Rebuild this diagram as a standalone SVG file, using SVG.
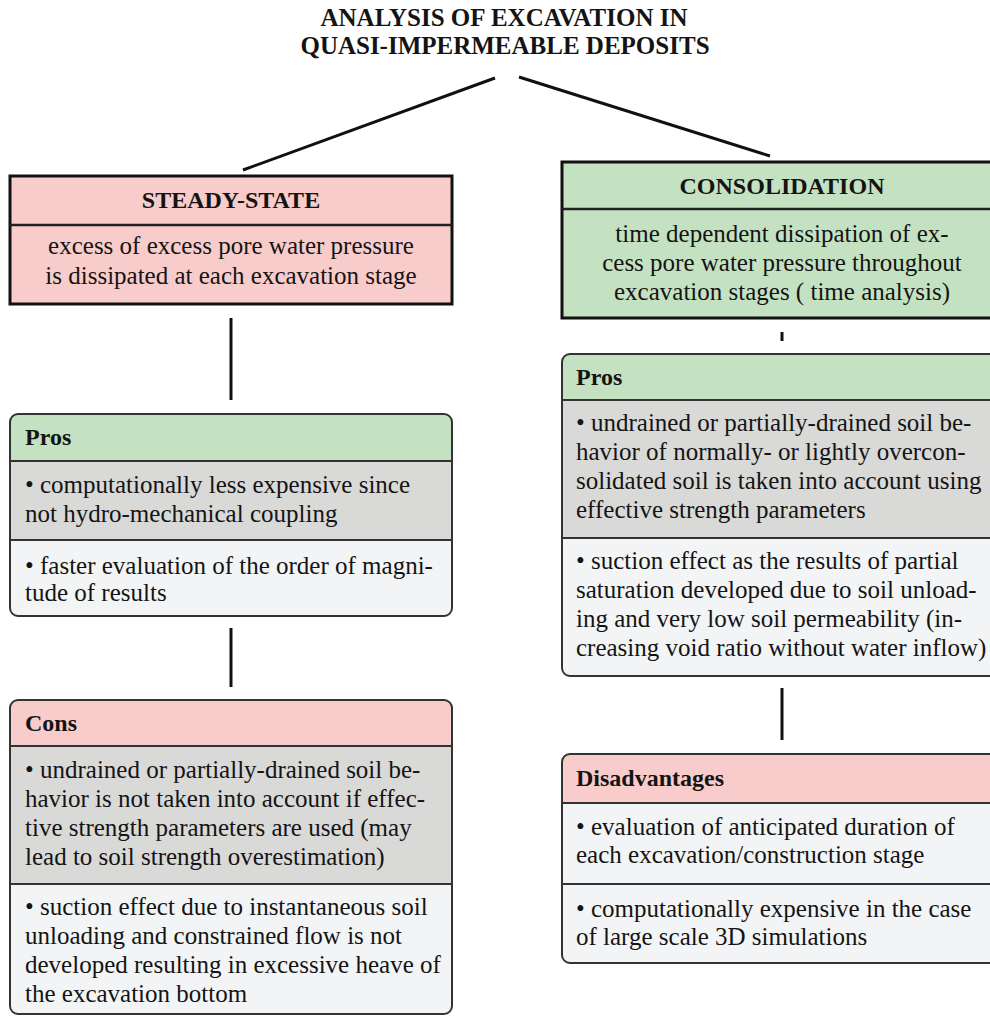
<svg xmlns="http://www.w3.org/2000/svg" width="990" height="1016" viewBox="0 0 990 1016" font-family="'Liberation Serif', Tinos, 'Times New Roman', Times, serif">
<style>
text{font-family:'Liberation Serif', Tinos, 'Times New Roman', Times, serif;font-size:25px;fill:#141414;font-weight:normal}
text.b{font-weight:bold;font-size:24px}
text.tt{font-size:25px}
.c{text-anchor:middle}
.con{stroke:#111;stroke-width:3;fill:none}
.top{stroke:#111;stroke-width:3}
.div{stroke:#222;stroke-width:2.5}
.sdiv{stroke:#333;stroke-width:2}
.frame{fill:none;stroke:#333;stroke-width:2}
.pink{fill:#f8ccca}
.green{fill:#c4e2c2}
.gray{fill:#d9d9d8}
.light{fill:#f3f4f6}
</style>
<defs>
<clipPath id="cp1"><rect x="10" y="414" width="442" height="202" rx="8"/></clipPath>
<clipPath id="cp2"><rect x="10" y="700" width="442" height="314" rx="8"/></clipPath>
<clipPath id="cp3"><rect x="562" y="354" width="446" height="322" rx="8"/></clipPath>
<clipPath id="cp4"><rect x="562" y="754" width="446" height="209" rx="8"/></clipPath>
</defs>
<rect width="990" height="1016" fill="#ffffff"/>

<g id="title">
<text class="b tt c" x="504" y="26">ANALYSIS OF EXCAVATION IN</text>
<text class="b tt c" x="505" y="54">QUASI-IMPERMEABLE DEPOSITS</text>
</g>

<g id="connectors">
<line class="con" x1="495" y1="78" x2="243" y2="170"/>
<line class="con" x1="519" y1="77" x2="770" y2="156"/>
<line class="con" x1="231" y1="318" x2="231" y2="400"/>
<line class="con" x1="231" y1="628" x2="231" y2="687"/>
<line class="con" x1="782" y1="332" x2="782" y2="341"/>
<line class="con" x1="782" y1="688" x2="782" y2="740"/>
</g>

<g id="steady-state">
<rect class="pink top" x="10" y="176" width="442" height="128"/>
<line class="div" x1="10" y1="225" x2="452" y2="225"/>
<text class="b c" x="231" y="208">STEADY-STATE</text>
<text class="c" x="231" y="254">excess of excess pore water pressure</text>
<text class="c" x="231" y="284">is dissipated at each excavation stage</text>
</g>

<g id="consolidation">
<rect class="green top" x="562" y="162" width="446" height="156"/>
<line class="div" x1="562" y1="209" x2="1008" y2="209"/>
<text class="b c" x="782" y="194">CONSOLIDATION</text>
<text class="c" x="782" y="242">time dependent dissipation of ex-</text>
<text class="c" x="782" y="271">cess pore water pressure throughout</text>
<text class="c" x="782" y="300">excavation stages ( time analysis)</text>
</g>

<g id="pros-left">
<g clip-path="url(#cp1)">
<rect class="green" x="10" y="414" width="442" height="47"/>
<rect class="gray" x="10" y="461" width="442" height="79"/>
<rect class="light" x="10" y="540" width="442" height="76"/>
</g>
<line class="sdiv" x1="10" y1="461" x2="452" y2="461"/>
<line class="sdiv" x1="10" y1="540" x2="452" y2="540"/>
<rect class="frame" x="10" y="414" width="442" height="202" rx="8"/>
<text class="b" x="25" y="445">Pros</text>
<text x="25" y="493">• computationally less expensive since</text>
<text x="25" y="522">not hydro-mechanical coupling</text>
<text x="25" y="574">• faster evaluation of the order of magni-</text>
<text x="25" y="601">tude of results</text>
</g>

<g id="cons-left">
<g clip-path="url(#cp2)">
<rect class="pink" x="10" y="700" width="442" height="46"/>
<rect class="gray" x="10" y="746" width="442" height="138"/>
<rect class="light" x="10" y="884" width="442" height="130"/>
</g>
<line class="sdiv" x1="10" y1="746" x2="452" y2="746"/>
<line class="sdiv" x1="10" y1="884" x2="452" y2="884"/>
<rect class="frame" x="10" y="700" width="442" height="314" rx="8"/>
<text class="b" x="25" y="731">Cons</text>
<text x="25" y="778">• undrained or partially-drained soil be-</text>
<text x="25" y="807">havior is not taken into account if effec-</text>
<text x="25" y="836">tive strength parameters are used (may</text>
<text x="25" y="865">lead to soil strength overestimation)</text>
<text x="25" y="915">• suction effect due to instantaneous soil</text>
<text x="25" y="944">unloading and constrained flow is not</text>
<text x="25" y="973">developed resulting in excessive heave of</text>
<text x="25" y="1002">the excavation bottom</text>
</g>

<g id="pros-right">
<g clip-path="url(#cp3)">
<rect class="green" x="562" y="354" width="446" height="46"/>
<rect class="gray" x="562" y="400" width="446" height="138"/>
<rect class="light" x="562" y="538" width="446" height="138"/>
</g>
<line class="sdiv" x1="562" y1="400" x2="1008" y2="400"/>
<line class="sdiv" x1="562" y1="538" x2="1008" y2="538"/>
<rect class="frame" x="562" y="354" width="446" height="322" rx="8"/>
<text class="b" x="576" y="385">Pros</text>
<text x="576" y="431">• undrained or partially-drained soil be-</text>
<text x="576" y="460">havior of normally- or lightly overcon-</text>
<text x="576" y="489">solidated soil is taken into account using</text>
<text x="576" y="518">effective strength parameters</text>
<text x="576" y="569">• suction effect as the results of partial</text>
<text x="576" y="598">saturation developed due to soil unload-</text>
<text x="576" y="627">ing and very low soil permeability (in-</text>
<text x="576" y="656">creasing void ratio without water inflow)</text>
</g>

<g id="disadvantages">
<g clip-path="url(#cp4)">
<rect class="pink" x="562" y="754" width="446" height="49"/>
<rect class="light" x="562" y="803" width="446" height="160"/>
</g>
<line class="sdiv" x1="562" y1="803" x2="1008" y2="803"/>
<line class="sdiv" x1="562" y1="884" x2="1008" y2="884"/>
<rect class="frame" x="562" y="754" width="446" height="209" rx="8"/>
<text class="b" x="576" y="786">Disadvantages</text>
<text x="576" y="835">• evaluation of anticipated duration of</text>
<text x="576" y="863">each excavation/construction stage</text>
<text x="576" y="917">• computationally expensive in the case</text>
<text x="576" y="945">of large scale 3D simulations</text>
</g>
</svg>
